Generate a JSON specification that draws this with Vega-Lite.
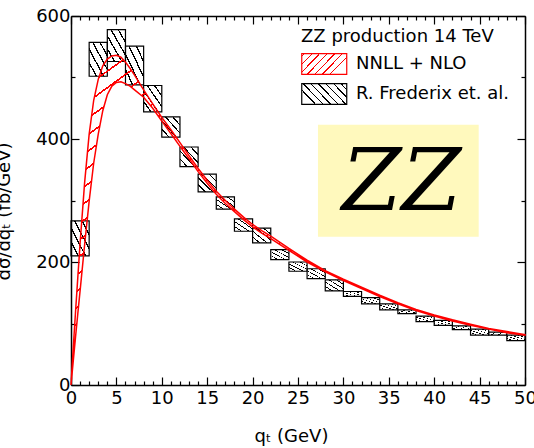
{
  "$schema": "https://vega.github.io/schema/vega-lite/v6.json",
  "width": 454,
  "height": 369,
  "autosize": "none",
  "padding": {"left": 71, "top": 16, "right": 9, "bottom": 63},
  "background": "white",
  "config": {
    "view": {"stroke": null},
    "font": "DejaVu Sans",
    "axis": {"grid": false, "labelFont": "DejaVu Sans", "labelFontSize": 18, "labelColor": "black", "titleFont": "DejaVu Sans", "titleFontSize": 18, "titleFontWeight": "normal", "titleColor": "black", "domainColor": "black", "domainWidth": 1.5, "tickColor": "black", "tickWidth": 1.2, "labelOverlap": false, "labelBound": false, "labelFlush": false},
    "legend": {"orient": "none", "legendX": 230, "legendY": 12, "titleFont": "DejaVu Sans", "titleFontSize": 18, "titleFontWeight": "normal", "titleColor": "black", "titlePadding": 6, "titleLimit": 400, "labelFont": "DejaVu Sans", "labelFontSize": 18, "labelColor": "black", "labelLimit": 300, "labelOffset": 31, "symbolType": "M-1,-0.93H3V0.93H-1Z", "symbolSize": 506, "symbolStrokeWidth": 1.2, "rowPadding": 4, "symbolOpacity": 1, "symbolFillColor": "white", "symbolStrokeColor": "black"}
  },
  "datasets": {
    "band": [
      {"q": 0, "hi": 0, "lo": 0},
      {"q": 0.25, "hi": 61, "lo": 39},
      {"q": 0.5, "hi": 119, "lo": 78},
      {"q": 0.75, "hi": 175, "lo": 116},
      {"q": 1, "hi": 230, "lo": 153},
      {"q": 1.5, "hi": 329, "lo": 228},
      {"q": 2, "hi": 408, "lo": 299},
      {"q": 2.5, "hi": 463, "lo": 361},
      {"q": 3, "hi": 497, "lo": 408},
      {"q": 3.5, "hi": 519, "lo": 446},
      {"q": 4, "hi": 530, "lo": 472},
      {"q": 4.5, "hi": 535, "lo": 486},
      {"q": 5, "hi": 536, "lo": 492},
      {"q": 5.5, "hi": 533, "lo": 493},
      {"q": 6, "hi": 525, "lo": 490},
      {"q": 6.5, "hi": 515, "lo": 486},
      {"q": 7, "hi": 504, "lo": 480},
      {"q": 8, "hi": 480, "lo": 468},
      {"q": 9, "hi": 457, "lo": 450},
      {"q": 10, "hi": 435, "lo": 429},
      {"q": 11, "hi": 415, "lo": 409},
      {"q": 12, "hi": 394, "lo": 388},
      {"q": 13, "hi": 373, "lo": 368},
      {"q": 14, "hi": 352, "lo": 347},
      {"q": 15, "hi": 333, "lo": 328},
      {"q": 16, "hi": 315, "lo": 310},
      {"q": 17, "hi": 300, "lo": 295},
      {"q": 18, "hi": 286, "lo": 282},
      {"q": 19, "hi": 273, "lo": 269},
      {"q": 20, "hi": 261, "lo": 257},
      {"q": 21, "hi": 251, "lo": 247},
      {"q": 22, "hi": 242, "lo": 238},
      {"q": 24, "hi": 222, "lo": 219},
      {"q": 26, "hi": 203, "lo": 200},
      {"q": 28, "hi": 186, "lo": 184},
      {"q": 30, "hi": 172, "lo": 170},
      {"q": 32, "hi": 159, "lo": 157},
      {"q": 34, "hi": 146, "lo": 144},
      {"q": 36, "hi": 134, "lo": 132},
      {"q": 38, "hi": 123, "lo": 121},
      {"q": 40, "hi": 114, "lo": 112},
      {"q": 42, "hi": 106, "lo": 104},
      {"q": 44, "hi": 99, "lo": 97},
      {"q": 46, "hi": 92, "lo": 91},
      {"q": 48, "hi": 87, "lo": 85},
      {"q": 50, "hi": 82, "lo": 81}
    ],
    "boxes": [
      {"a": 0, "b": 2, "lo": 210, "hi": 267},
      {"a": 2, "b": 4, "lo": 502, "hi": 557},
      {"a": 4, "b": 6, "lo": 526, "hi": 578},
      {"a": 6, "b": 8, "lo": 488, "hi": 551},
      {"a": 8, "b": 10, "lo": 444, "hi": 487},
      {"a": 10, "b": 12, "lo": 403, "hi": 436},
      {"a": 12, "b": 14, "lo": 355, "hi": 387},
      {"a": 14, "b": 16, "lo": 314, "hi": 343},
      {"a": 16, "b": 18, "lo": 286, "hi": 306},
      {"a": 18, "b": 20, "lo": 250, "hi": 270},
      {"a": 20, "b": 22, "lo": 231, "hi": 255},
      {"a": 22, "b": 24, "lo": 204, "hi": 220},
      {"a": 24, "b": 26, "lo": 185, "hi": 200},
      {"a": 26, "b": 28, "lo": 173, "hi": 189},
      {"a": 28, "b": 30, "lo": 153, "hi": 171},
      {"a": 30, "b": 32, "lo": 144, "hi": 152},
      {"a": 32, "b": 34, "lo": 132, "hi": 142},
      {"a": 34, "b": 36, "lo": 122, "hi": 132},
      {"a": 36, "b": 38, "lo": 116, "hi": 122},
      {"a": 38, "b": 40, "lo": 103, "hi": 112},
      {"a": 40, "b": 42, "lo": 97, "hi": 105},
      {"a": 42, "b": 44, "lo": 90, "hi": 96},
      {"a": 44, "b": 46, "lo": 81, "hi": 91},
      {"a": 46, "b": 48, "lo": 81, "hi": 86},
      {"a": 48, "b": 50, "lo": 72, "hi": 81}
    ]
  },
  "layer": [
    {
      "data": {"values": [{}]},
      "mark": {"type": "rect", "color": "#fff9bd"},
      "encoding": {
        "x": {"datum": 27.2, "type": "quantitative", "scale": {"domain": [0, 50], "nice": false, "zero": false}, "axis": null},
        "x2": {"datum": 44.9},
        "y": {"datum": 241, "type": "quantitative", "scale": {"domain": [0, 600], "nice": false}, "axis": null},
        "y2": {"datum": 423}
      }
    },
    {
      "data": {"name": "boxes"},
      "mark": {
        "type": "rect",
        "strokeWidth": 1.2,
        "stroke": "#000",
        "fill": {"gradient": "linear", "x1": 0, "y1": 1, "x2": 1, "y2": 0, "stops": [
          {"offset": 0.18, "color": "rgba(0,0,0,0)"}, {"offset": 0.18, "color": "#000"}, {"offset": 0.22, "color": "#000"}, {"offset": 0.22, "color": "rgba(0,0,0,0)"},
          {"offset": 0.38, "color": "rgba(0,0,0,0)"}, {"offset": 0.38, "color": "#000"}, {"offset": 0.42, "color": "#000"}, {"offset": 0.42, "color": "rgba(0,0,0,0)"},
          {"offset": 0.58, "color": "rgba(0,0,0,0)"}, {"offset": 0.58, "color": "#000"}, {"offset": 0.62, "color": "#000"}, {"offset": 0.62, "color": "rgba(0,0,0,0)"},
          {"offset": 0.78, "color": "rgba(0,0,0,0)"}, {"offset": 0.78, "color": "#000"}, {"offset": 0.82, "color": "#000"}, {"offset": 0.82, "color": "rgba(0,0,0,0)"}
        ]}
      },
      "encoding": {
        "x": {"field": "a", "type": "quantitative", "scale": {"domain": [0, 50], "nice": false, "zero": false},
          "axis": {"orient": "top", "values": [0,1,2,3,4,5,6,7,8,9,10,11,12,13,14,15,16,17,18,19,20,21,22,23,24,25,26,27,28,29,30,31,32,33,34,35,36,37,38,39,40,41,42,43,44,45,46,47,48,49,50], "labels": false, "title": null,
            "tickSize": {"condition": {"test": "datum.value % 5 === 0", "value": -8}, "value": -4}}},
        "x2": {"field": "b"},
        "y": {"field": "lo", "type": "quantitative", "scale": {"domain": [0, 600], "nice": false},
          "axis": {"orient": "right", "values": [0,100,200,300,400,500,600], "labels": false, "title": null,
            "tickSize": {"condition": {"test": "datum.value % 200 === 0", "value": -8}, "value": -4}}},
        "y2": {"field": "hi"}
      }
    },
    {
      "data": {"name": "band"},
      "mark": {
        "type": "area",
        "strokeWidth": 1.5,
        "stroke": "#f00",
        "fill": {"gradient": "linear", "x1": 0, "y1": 0, "x2": 1, "y2": 1, "stops": [
          {"offset":0.0125,"color":"rgba(255,0,0,0)"},{"offset":0.0125,"color":"#f00"},{"offset":0.0155,"color":"#f00"},{"offset":0.0155,"color":"rgba(255,0,0,0)"},
          {"offset":0.0375,"color":"rgba(255,0,0,0)"},{"offset":0.0375,"color":"#f00"},{"offset":0.0405,"color":"#f00"},{"offset":0.0405,"color":"rgba(255,0,0,0)"},
          {"offset":0.0625,"color":"rgba(255,0,0,0)"},{"offset":0.0625,"color":"#f00"},{"offset":0.0655,"color":"#f00"},{"offset":0.0655,"color":"rgba(255,0,0,0)"},
          {"offset":0.0875,"color":"rgba(255,0,0,0)"},{"offset":0.0875,"color":"#f00"},{"offset":0.0905,"color":"#f00"},{"offset":0.0905,"color":"rgba(255,0,0,0)"},
          {"offset":0.1125,"color":"rgba(255,0,0,0)"},{"offset":0.1125,"color":"#f00"},{"offset":0.1155,"color":"#f00"},{"offset":0.1155,"color":"rgba(255,0,0,0)"},
          {"offset":0.1375,"color":"rgba(255,0,0,0)"},{"offset":0.1375,"color":"#f00"},{"offset":0.1405,"color":"#f00"},{"offset":0.1405,"color":"rgba(255,0,0,0)"},
          {"offset":0.1625,"color":"rgba(255,0,0,0)"},{"offset":0.1625,"color":"#f00"},{"offset":0.1655,"color":"#f00"},{"offset":0.1655,"color":"rgba(255,0,0,0)"},
          {"offset":0.1875,"color":"rgba(255,0,0,0)"},{"offset":0.1875,"color":"#f00"},{"offset":0.1905,"color":"#f00"},{"offset":0.1905,"color":"rgba(255,0,0,0)"},
          {"offset":0.2125,"color":"rgba(255,0,0,0)"},{"offset":0.2125,"color":"#f00"},{"offset":0.2155,"color":"#f00"},{"offset":0.2155,"color":"rgba(255,0,0,0)"},
          {"offset":0.2375,"color":"rgba(255,0,0,0)"},{"offset":0.2375,"color":"#f00"},{"offset":0.2405,"color":"#f00"},{"offset":0.2405,"color":"rgba(255,0,0,0)"},
          {"offset":0.2625,"color":"rgba(255,0,0,0)"},{"offset":0.2625,"color":"#f00"},{"offset":0.2655,"color":"#f00"},{"offset":0.2655,"color":"rgba(255,0,0,0)"},
          {"offset":0.2875,"color":"rgba(255,0,0,0)"},{"offset":0.2875,"color":"#f00"},{"offset":0.2905,"color":"#f00"},{"offset":0.2905,"color":"rgba(255,0,0,0)"},
          {"offset":0.3125,"color":"rgba(255,0,0,0)"},{"offset":0.3125,"color":"#f00"},{"offset":0.3155,"color":"#f00"},{"offset":0.3155,"color":"rgba(255,0,0,0)"},
          {"offset":0.3375,"color":"rgba(255,0,0,0)"},{"offset":0.3375,"color":"#f00"},{"offset":0.3405,"color":"#f00"},{"offset":0.3405,"color":"rgba(255,0,0,0)"},
          {"offset":0.3625,"color":"rgba(255,0,0,0)"},{"offset":0.3625,"color":"#f00"},{"offset":0.3655,"color":"#f00"},{"offset":0.3655,"color":"rgba(255,0,0,0)"},
          {"offset":0.3875,"color":"rgba(255,0,0,0)"},{"offset":0.3875,"color":"#f00"},{"offset":0.3905,"color":"#f00"},{"offset":0.3905,"color":"rgba(255,0,0,0)"},
          {"offset":0.4125,"color":"rgba(255,0,0,0)"},{"offset":0.4125,"color":"#f00"},{"offset":0.4155,"color":"#f00"},{"offset":0.4155,"color":"rgba(255,0,0,0)"},
          {"offset":0.4375,"color":"rgba(255,0,0,0)"},{"offset":0.4375,"color":"#f00"},{"offset":0.4405,"color":"#f00"},{"offset":0.4405,"color":"rgba(255,0,0,0)"},
          {"offset":0.4625,"color":"rgba(255,0,0,0)"},{"offset":0.4625,"color":"#f00"},{"offset":0.4655,"color":"#f00"},{"offset":0.4655,"color":"rgba(255,0,0,0)"},
          {"offset":0.4875,"color":"rgba(255,0,0,0)"},{"offset":0.4875,"color":"#f00"},{"offset":0.4905,"color":"#f00"},{"offset":0.4905,"color":"rgba(255,0,0,0)"},
          {"offset":0.5125,"color":"rgba(255,0,0,0)"},{"offset":0.5125,"color":"#f00"},{"offset":0.5155,"color":"#f00"},{"offset":0.5155,"color":"rgba(255,0,0,0)"},
          {"offset":0.5375,"color":"rgba(255,0,0,0)"},{"offset":0.5375,"color":"#f00"},{"offset":0.5405,"color":"#f00"},{"offset":0.5405,"color":"rgba(255,0,0,0)"},
          {"offset":0.5625,"color":"rgba(255,0,0,0)"},{"offset":0.5625,"color":"#f00"},{"offset":0.5655,"color":"#f00"},{"offset":0.5655,"color":"rgba(255,0,0,0)"},
          {"offset":0.5875,"color":"rgba(255,0,0,0)"},{"offset":0.5875,"color":"#f00"},{"offset":0.5905,"color":"#f00"},{"offset":0.5905,"color":"rgba(255,0,0,0)"},
          {"offset":0.6125,"color":"rgba(255,0,0,0)"},{"offset":0.6125,"color":"#f00"},{"offset":0.6155,"color":"#f00"},{"offset":0.6155,"color":"rgba(255,0,0,0)"},
          {"offset":0.6375,"color":"rgba(255,0,0,0)"},{"offset":0.6375,"color":"#f00"},{"offset":0.6405,"color":"#f00"},{"offset":0.6405,"color":"rgba(255,0,0,0)"},
          {"offset":0.6625,"color":"rgba(255,0,0,0)"},{"offset":0.6625,"color":"#f00"},{"offset":0.6655,"color":"#f00"},{"offset":0.6655,"color":"rgba(255,0,0,0)"},
          {"offset":0.6875,"color":"rgba(255,0,0,0)"},{"offset":0.6875,"color":"#f00"},{"offset":0.6905,"color":"#f00"},{"offset":0.6905,"color":"rgba(255,0,0,0)"},
          {"offset":0.7125,"color":"rgba(255,0,0,0)"},{"offset":0.7125,"color":"#f00"},{"offset":0.7155,"color":"#f00"},{"offset":0.7155,"color":"rgba(255,0,0,0)"},
          {"offset":0.7375,"color":"rgba(255,0,0,0)"},{"offset":0.7375,"color":"#f00"},{"offset":0.7405,"color":"#f00"},{"offset":0.7405,"color":"rgba(255,0,0,0)"},
          {"offset":0.7625,"color":"rgba(255,0,0,0)"},{"offset":0.7625,"color":"#f00"},{"offset":0.7655,"color":"#f00"},{"offset":0.7655,"color":"rgba(255,0,0,0)"},
          {"offset":0.7875,"color":"rgba(255,0,0,0)"},{"offset":0.7875,"color":"#f00"},{"offset":0.7905,"color":"#f00"},{"offset":0.7905,"color":"rgba(255,0,0,0)"},
          {"offset":0.8125,"color":"rgba(255,0,0,0)"},{"offset":0.8125,"color":"#f00"},{"offset":0.8155,"color":"#f00"},{"offset":0.8155,"color":"rgba(255,0,0,0)"},
          {"offset":0.8375,"color":"rgba(255,0,0,0)"},{"offset":0.8375,"color":"#f00"},{"offset":0.8405,"color":"#f00"},{"offset":0.8405,"color":"rgba(255,0,0,0)"},
          {"offset":0.8625,"color":"rgba(255,0,0,0)"},{"offset":0.8625,"color":"#f00"},{"offset":0.8655,"color":"#f00"},{"offset":0.8655,"color":"rgba(255,0,0,0)"},
          {"offset":0.8875,"color":"rgba(255,0,0,0)"},{"offset":0.8875,"color":"#f00"},{"offset":0.8905,"color":"#f00"},{"offset":0.8905,"color":"rgba(255,0,0,0)"},
          {"offset":0.9125,"color":"rgba(255,0,0,0)"},{"offset":0.9125,"color":"#f00"},{"offset":0.9155,"color":"#f00"},{"offset":0.9155,"color":"rgba(255,0,0,0)"},
          {"offset":0.9375,"color":"rgba(255,0,0,0)"},{"offset":0.9375,"color":"#f00"},{"offset":0.9405,"color":"#f00"},{"offset":0.9405,"color":"rgba(255,0,0,0)"},
          {"offset":0.9625,"color":"rgba(255,0,0,0)"},{"offset":0.9625,"color":"#f00"},{"offset":0.9655,"color":"#f00"},{"offset":0.9655,"color":"rgba(255,0,0,0)"},
          {"offset":0.9875,"color":"rgba(255,0,0,0)"},{"offset":0.9875,"color":"#f00"},{"offset":0.9905,"color":"#f00"},{"offset":0.9905,"color":"rgba(255,0,0,0)"}
        ]}
      },
      "encoding": {
        "x": {"field": "q", "type": "quantitative", "scale": {"domain": [0, 50], "nice": false, "zero": false},
          "axis": {"orient": "bottom", "values": [0,1,2,3,4,5,6,7,8,9,10,11,12,13,14,15,16,17,18,19,20,21,22,23,24,25,26,27,28,29,30,31,32,33,34,35,36,37,38,39,40,41,42,43,44,45,46,47,48,49,50],
            "labelExpr": "datum.value % 5 === 0 ? datum.label : ''", "labelPadding": 12,
            "tickSize": {"condition": {"test": "datum.value % 5 === 0", "value": -8}, "value": -4},
            "title": "qₜ (GeV)", "titleX": 220, "titleY": 56, "titleBaseline": "alphabetic", "titleAnchor": "middle", "titleAlign": "center"}},
        "y": {"field": "hi", "type": "quantitative", "scale": {"domain": [0, 600], "nice": false},
          "axis": {"orient": "left", "values": [0,100,200,300,400,500,600],
            "labelExpr": "datum.value % 200 === 0 ? datum.label : ''", "labelPadding": 9,
            "tickSize": {"condition": {"test": "datum.value % 200 === 0", "value": -8}, "value": -4},
            "title": "dσ/dqₜ (fb/GeV)", "titleX": -62, "titleY": 195, "titleAngle": -90, "titleBaseline": "alphabetic", "titleAlign": "center"}},
        "y2": {"field": "lo"}
      }
    },
    {
      "data": {"values": [{"series": "NNLL + NLO"}, {"series": "R. Frederix et. al."}]},
      "mark": {"type": "point", "clip": true, "size": 1},
      "encoding": {
        "x": {"datum": -20, "type": "quantitative", "axis": null},
        "y": {"datum": -100, "type": "quantitative", "axis": null},
        "fill": {"field": "series", "type": "nominal",
          "scale": {"domain": ["NNLL + NLO", "R. Frederix et. al."], "range": [
            {"expr": "{gradient:'linear',x1:0,y1:0,x2:1,y2:0.45,stops:[{offset:0.04,color:'rgba(255,0,0,0)'},{offset:0.04,color:'#f00'},{offset:0.065,color:'#f00'},{offset:0.065,color:'rgba(255,0,0,0)'},{offset:0.18,color:'rgba(255,0,0,0)'},{offset:0.18,color:'#f00'},{offset:0.205,color:'#f00'},{offset:0.205,color:'rgba(255,0,0,0)'},{offset:0.32,color:'rgba(255,0,0,0)'},{offset:0.32,color:'#f00'},{offset:0.345,color:'#f00'},{offset:0.345,color:'rgba(255,0,0,0)'},{offset:0.46,color:'rgba(255,0,0,0)'},{offset:0.46,color:'#f00'},{offset:0.485,color:'#f00'},{offset:0.485,color:'rgba(255,0,0,0)'},{offset:0.6,color:'rgba(255,0,0,0)'},{offset:0.6,color:'#f00'},{offset:0.625,color:'#f00'},{offset:0.625,color:'rgba(255,0,0,0)'},{offset:0.74,color:'rgba(255,0,0,0)'},{offset:0.74,color:'#f00'},{offset:0.765,color:'#f00'},{offset:0.765,color:'rgba(255,0,0,0)'},{offset:0.88,color:'rgba(255,0,0,0)'},{offset:0.88,color:'#f00'},{offset:0.905,color:'#f00'},{offset:0.905,color:'rgba(255,0,0,0)'}]}"},
            {"expr": "{gradient:'linear',x1:0,y1:0.45,x2:1,y2:0,stops:[{offset:0.04,color:'rgba(0,0,0,0)'},{offset:0.04,color:'#000'},{offset:0.065,color:'#000'},{offset:0.065,color:'rgba(0,0,0,0)'},{offset:0.18,color:'rgba(0,0,0,0)'},{offset:0.18,color:'#000'},{offset:0.205,color:'#000'},{offset:0.205,color:'rgba(0,0,0,0)'},{offset:0.32,color:'rgba(0,0,0,0)'},{offset:0.32,color:'#000'},{offset:0.345,color:'#000'},{offset:0.345,color:'rgba(0,0,0,0)'},{offset:0.46,color:'rgba(0,0,0,0)'},{offset:0.46,color:'#000'},{offset:0.485,color:'#000'},{offset:0.485,color:'rgba(0,0,0,0)'},{offset:0.6,color:'rgba(0,0,0,0)'},{offset:0.6,color:'#000'},{offset:0.625,color:'#000'},{offset:0.625,color:'rgba(0,0,0,0)'},{offset:0.74,color:'rgba(0,0,0,0)'},{offset:0.74,color:'#000'},{offset:0.765,color:'#000'},{offset:0.765,color:'rgba(0,0,0,0)'},{offset:0.88,color:'rgba(0,0,0,0)'},{offset:0.88,color:'#000'},{offset:0.905,color:'#000'},{offset:0.905,color:'rgba(0,0,0,0)'}]}"}
          ]},
          "legend": {"title": "ZZ production 14 TeV"}},
        "stroke": {"field": "series", "type": "nominal",
          "scale": {"domain": ["NNLL + NLO", "R. Frederix et. al."], "range": ["#ff0000", "#000000"]},
          "legend": {"title": "ZZ production 14 TeV"}}
      }
    },
    {
      "data": {"values": [{}]},
      "mark": {"type": "text", "text": "ZZ", "font": "DejaVu Serif", "fontStyle": "italic", "fontSize": 86, "align": "center", "baseline": "alphabetic", "color": "black"},
      "encoding": {
        "x": {"datum": 36.4, "type": "quantitative", "axis": null},
        "y": {"datum": 285, "type": "quantitative", "axis": null}
      }
    }
  ],
  "resolve": {"axis": {"x": "independent", "y": "independent"}}
}
